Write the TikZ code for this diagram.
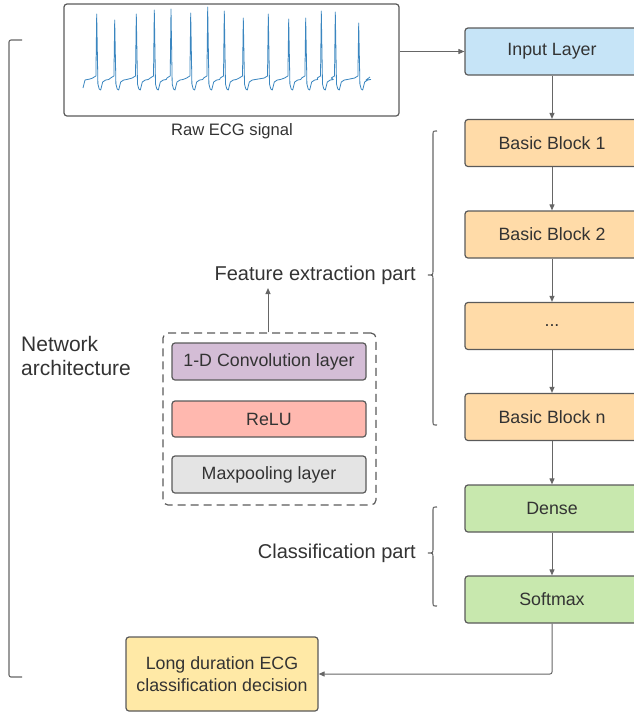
\documentclass[tikz,border=0pt]{standalone}
\usepackage{fontspec}
\setmainfont{Liberation Sans}
\usetikzlibrary{arrows.meta}
\definecolor{txt}{HTML}{333333}
\definecolor{ln}{HTML}{666666}
\definecolor{bd}{HTML}{5A5A5A}
\definecolor{cinput}{HTML}{C6E4F7}
\definecolor{cblock}{HTML}{FFDBA8}
\definecolor{cgreen}{HTML}{C8E8AE}
\definecolor{cyellow}{HTML}{FFE9A6}
\definecolor{cconv}{HTML}{D4BDD6}
\definecolor{crelu}{HTML}{FFB8AF}
\definecolor{cmax}{HTML}{E4E4E4}
\definecolor{ecgc}{HTML}{3A86C0}
\tikzset{
  boxstyle/.style={draw=bd, line width=1.2pt, rounded corners=3pt, text=txt, inner sep=0pt,
    font=\fontsize{17.8}{21.5}\selectfont},
  mainbox/.style={boxstyle, minimum width=174pt, minimum height=47pt},
  subbox/.style={boxstyle, minimum width=194pt, minimum height=37pt},
  conn/.style={draw=ln, line width=1pt, -{Triangle[length=6pt,width=5pt]}},
  bracestyle/.style={draw=ln, line width=1.1pt},
  lbl/.style={text=txt, inner sep=0pt, font=\fontsize{20}{24}\selectfont}
}
\begin{document}
\begin{tikzpicture}[x=1pt,y=-1pt]
\useasboundingbox (0,0) rectangle (633,713);
% ECG box
\node[draw=bd, line width=1.2pt, rounded corners=3pt, fill=white, minimum width=335pt, minimum height=112pt, inner sep=0pt] (ecg) at (231.5,60) {};
\draw[ecgc, line width=0.8pt, line join=round]
  (83,88) -- (85,80) -- (90,79)
  \foreach \p/\h in {96.7/14,114.7/20,136.3/14,154.3/10,171/9,190.7/13,207.7/7,224.3/11,243.3/18,268.3/14,288.7/19,305.7/18,321.3/11,335.3/12,358.7/23}{
    -- ({\p-4},78) -- ({\p-2.5},77) -- ({\p-0.8},76) -- (\p,\h) -- ({\p+1.2},84) -- ({\p+2.5},89) -- ({\p+4},90) -- ({\p+6},82) -- ({\p+9},80) -- ({\p+12},79.5)
  } -- (366,80) -- (370,77);
\node[text=txt, inner sep=0pt, font=\fontsize{16.6}{20}\selectfont] (rawlbl) at (232,131) {Raw ECG signal};

% main column
\node[mainbox, fill=cinput] (input) at (552,51.5) {Input Layer};
\node[mainbox, fill=cblock] (bb1) at (552,143) {Basic Block 1};
\node[mainbox, fill=cblock] (bb2) at (552,234.5) {Basic Block 2};
\node[mainbox, fill=cblock] (bbd) at (552,326) {...};
\node[mainbox, fill=cblock] (bbn) at (552,417) {Basic Block n};
\node[mainbox, fill=cgreen] (dense) at (552,508.5) {Dense};
\node[mainbox, fill=cgreen] (soft) at (552,599.5) {Softmax};
\node[boxstyle, fill=cyellow, minimum width=192pt, minimum height=74pt, align=center] (long) at (222,674) {Long duration ECG\\classification decision};

\draw[conn] (ecg.east |- input.west) -- (input.west);
\draw[conn] (input) -- (bb1);
\draw[conn] (bb1) -- (bb2);
\draw[conn] (bb2) -- (bbd);
\draw[conn] (bbd) -- (bbn);
\draw[conn] (bbn) -- (dense);
\draw[conn] (dense) -- (soft);
\draw[conn, rounded corners=2pt] (soft.south) |- (long.east);

% dashed block
\node[draw=bd, line width=1.2pt, dash pattern=on 8pt off 5pt, rounded corners=5pt, minimum width=213pt, minimum height=172pt, inner sep=0pt] (dash) at (269.5,419) {};
\node[subbox, fill=cconv] (conv) at (269,361.5) {1-D Convolution layer};
\node[subbox, fill=crelu, minimum height=36pt] (relu) at (269,419) {ReLU};
\node[subbox, fill=cmax] (maxp) at (269,474.5) {Maxpooling layer};

% labels
\node[lbl, anchor=east] (feat) at (416,275) {Feature extraction part};
\node[lbl, anchor=east] (cls) at (416,553) {Classification part};
\node[lbl, anchor=west, align=left, font=\fontsize{21}{24}\selectfont] (net) at (21,356) {Network\\architecture};
\coordinate (ft) at (268,288);
\draw[conn] (dash.north -| ft) -- (ft);

% braces
\draw[bracestyle] (437,131) .. controls (433,131) .. (433,135) -- (433,270) .. controls (433,275) .. (428,275) .. controls (433,275) .. (433,280) -- (433,421) .. controls (433,425) .. (437,425);
\draw[bracestyle] (437,507) .. controls (433,507) .. (433,511) -- (433,548) .. controls (433,553) .. (428,553) .. controls (433,553) .. (433,558) -- (433,602) .. controls (433,606) .. (437,606);
\draw[bracestyle, rounded corners=2pt] (22,40) -- (9,40) -- (9,677) -- (22,677);
\end{tikzpicture}
\end{document}
